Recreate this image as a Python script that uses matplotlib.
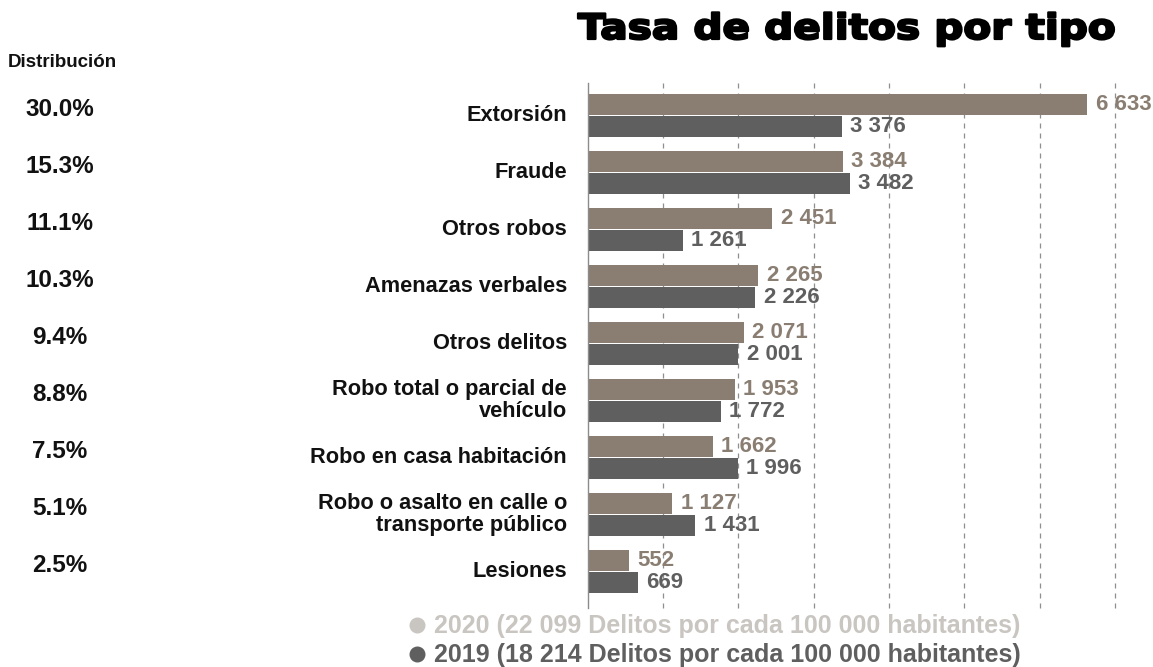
import matplotlib
matplotlib.use("Agg")
import matplotlib.pyplot as plt
from matplotlib import transforms
from matplotlib.lines import Line2D
from matplotlib.textpath import TextPath
from matplotlib.patches import PathPatch
from matplotlib.font_manager import FontProperties

# Crime rate by type (per 100 000 inhabitants)
categories = [
    "Extorsión",
    "Fraude",
    "Otros robos",
    "Amenazas verbales",
    "Otros delitos",
    "Robo total o parcial de\nvehículo",
    "Robo en casa habitación",
    "Robo o asalto en calle o\ntransporte público",
    "Lesiones",
]
shares = ["30.0%", "15.3%", "11.1%", "10.3%", "9.4%", "8.8%", "7.5%", "5.1%", "2.5%"]
rate_2020 = [6633, 3384, 2451, 2265, 2071, 1953, 1662, 1127, 552]
rate_2019 = [3376, 3482, 1261, 2226, 2001, 1772, 1996, 1431, 669]
legend_labels = [
    "2020 (22 099 Delitos por cada 100 000 habitantes)",
    "2019 (18 214 Delitos por cada 100 000 habitantes)",
]
title = "Tasa de delitos por tipo"

c2020 = "#8a7e72"
c2019 = "#5f5f5f"
c2020_legend = "#c9c5c1"
sans = ["Liberation Sans", "DejaVu Sans"]

W, H = 1153, 667
fig = plt.figure(figsize=(W / 100, H / 100), dpi=100)


def px(x, y):
    return x / W, 1 - y / H


ax = fig.add_axes([587.5 / W, 1 - 608 / H, (1115 - 587.5) / W, (608 - 83) / H])

pos = list(range(len(categories)))
bh = 0.368
off = 0.193
ax.barh([p - off for p in pos], rate_2020, height=bh, color=c2020, zorder=2)
ax.barh([p + off for p in pos], rate_2019, height=bh, color=c2019, zorder=2)

ax.set_xlim(0, 7000)
ax.set_ylim(8.64, -0.57)
for gx in range(1000, 7001, 1000):
    ax.axvline(gx, color="#8f8f8f", lw=0.9, ls=(0, (4, 4)), zorder=1, clip_on=False)
for s in ["top", "right", "bottom"]:
    ax.spines[s].set_visible(False)
ax.spines["left"].set_color("#8c8c8c")
ax.spines["left"].set_linewidth(1)
ax.set_xticks([])
ax.set_yticks([])
ax.patch.set_alpha(0)


def fmt(v):
    return f"{v:,}".replace(",", " ")


for p, a, b in zip(pos, rate_2020, rate_2019):
    ax.annotate(fmt(a), xy=(a, p - off), xytext=(6, 0), textcoords="offset points",
                va="center", ha="left", color=c2020, fontsize=16,
                fontweight="bold", family=sans, zorder=3)
    ax.annotate(fmt(b), xy=(b, p + off), xytext=(6, 0), textcoords="offset points",
                va="center", ha="left", color=c2019, fontsize=16,
                fontweight="bold", family=sans, zorder=3)

# category names and share column to the left of the axis
trans = transforms.blended_transform_factory(fig.transFigure, ax.transData)
for p, name, share in zip(pos, categories, shares):
    ax.text(567 / W, p, name, transform=trans, ha="right", va="center",
            fontsize=15.7, fontweight="bold", family=sans, color="#111111",
            linespacing=1.1, clip_on=False)
    ax.text(60 / W, p + 0.01, share, transform=trans, ha="center", va="baseline",
            fontsize=17.5, fontweight="bold", family=sans, color="#111111",
            clip_on=False)

fig.text(*px(8, 67), "Distribución", ha="left", va="baseline", fontsize=13.5,
         fontweight="bold", family=sans, color="#111111")

# heavy, wide title drawn as a stretched text path (pixel coordinates)
tp = TextPath((0, 0), title, size=35, prop=FontProperties(family="DejaVu Sans", weight="bold"))
bb = tp.get_extents()
sx = (1114 - 578) / bb.width
tt = transforms.Affine2D().translate(-bb.x0, 0).scale(sx, 1.0).translate(578, H - 39)
fig.add_artist(PathPatch(tp, transform=tt, facecolor="#000000", edgecolor="#000000",
                         lw=1.6, joinstyle="round"))

# legend rows
for (ly, col, lab) in [(633, c2020_legend, legend_labels[0]),
                       (662, c2019, legend_labels[1])]:
    fig.add_artist(Line2D([417 / W], [1 - (ly - 8) / H], marker="o", ms=10.5,
                          color=col, mec=col, transform=fig.transFigure))
    fig.text(*px(434, ly), lab, ha="left", va="baseline", fontsize=18,
             fontweight="bold", family=sans, color=col)

fig.savefig("out.png", dpi=100)
